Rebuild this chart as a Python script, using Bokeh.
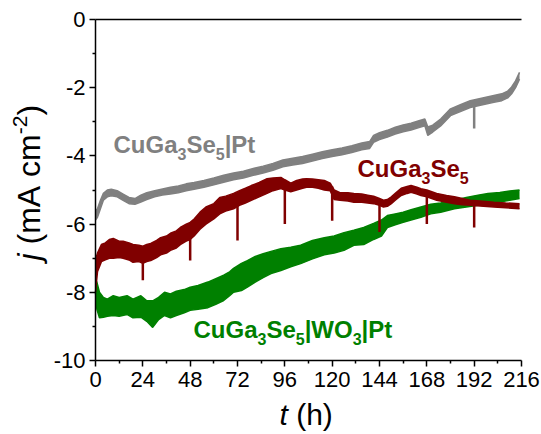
from math import pi

from bokeh.embed import file_html
from bokeh.models import FixedTicker, Label, LinearAxis, Range1d
from bokeh.plotting import figure
from bokeh.resources import INLINE

# ---- axes ---------------------------------------------------------------
x_ticks = [0, 24, 48, 72, 96, 120, 144, 168, 192, 216]
x_minor = [12, 36, 60, 84, 108, 132, 156, 180, 204]
y_ticks = [-10, -8, -6, -4, -2, 0]
y_minor = [-9, -7, -5, -3, -1]
y_tick_labels = ["-10", "-8", "-6", "-4", "-2", "0"]

# ---- CuGa3Se5|Pt : time (h), lower / upper edge of the noisy trace (mA cm-2)
pt_t = [0, 1, 2.5, 4, 6, 8, 11, 14, 17, 20, 23, 26, 30, 34, 38, 42, 46, 50,
        55, 60, 65, 70, 75, 80, 85, 90, 95, 100, 105, 110, 115, 120, 125,
        130, 135, 139, 141, 144, 148, 152, 156, 160, 164, 167, 168.5, 171,
        175, 180, 185, 190, 194, 198, 202, 206, 209, 211, 213, 215]
pt_lo = [-5.88, -5.80, -5.55, -5.30, -5.20, -5.17, -5.20, -5.30, -5.40,
         -5.42, -5.35, -5.28, -5.20, -5.15, -5.12, -5.08, -5.02, -4.98,
         -4.92, -4.85, -4.77, -4.70, -4.65, -4.57, -4.50, -4.42, -4.32,
         -4.27, -4.22, -4.15, -4.08, -4.02, -3.97, -3.90, -3.82, -3.78,
         -3.60, -3.52, -3.45, -3.36, -3.29, -3.24, -3.17, -3.12, -3.40,
         -3.30, -3.12, -2.82, -2.70, -2.58, -2.53, -2.48, -2.43, -2.38,
         -2.30, -2.18, -2.00, -1.75]
pt_hi = [-5.62, -5.55, -5.30, -5.10, -5.00, -4.98, -5.02, -5.12, -5.22,
         -5.25, -5.15, -5.08, -5.02, -4.97, -4.92, -4.88, -4.82, -4.78,
         -4.72, -4.65, -4.57, -4.50, -4.45, -4.37, -4.30, -4.22, -4.12,
         -4.07, -4.02, -3.95, -3.88, -3.82, -3.77, -3.70, -3.62, -3.58,
         -3.40, -3.32, -3.25, -3.16, -3.09, -3.04, -2.97, -2.92, -3.15,
         -3.10, -2.92, -2.62, -2.50, -2.38, -2.33, -2.28, -2.23, -2.18,
         -2.10, -1.98, -1.80, -1.55]
pt_spike_t = [192]
pt_spike_from = [-2.40]
pt_spike_to = [-3.20]

# ---- CuGa3Se5 (bare) ----------------------------------------------------
bare_t = [0, 1, 3, 5, 7, 9, 12, 14, 17, 19, 22, 24, 26, 28, 31, 33, 36, 38,
          41, 43, 46, 48, 50, 53, 56, 60, 63, 66, 70, 73, 76, 79, 83, 87,
          90, 94, 96, 99, 102, 105, 107, 110, 113, 116, 119, 121, 124, 128,
          131, 135, 138, 141, 144, 146, 148, 150, 152, 155, 158, 160, 163,
          165, 168, 173, 178, 182, 186, 190, 195, 202, 208, 215]
bare_lo = [-8.00, -7.40, -7.10, -7.05, -7.00, -7.00, -6.98, -7.00, -7.05,
           -7.12, -7.10, -7.15, -7.10, -7.07, -6.98, -6.90, -6.85, -6.77,
           -6.70, -6.60, -6.50, -6.45, -6.35, -6.15, -6.00, -5.85, -5.70,
           -5.62, -5.55, -5.45, -5.38, -5.30, -5.20, -5.10, -5.02, -4.96,
           -5.00, -5.05, -5.00, -4.95, -4.92, -4.92, -4.95, -5.00, -5.02,
           -5.28, -5.30, -5.32, -5.36, -5.36, -5.38, -5.40, -5.45, -5.50,
           -5.48, -5.40, -5.30, -5.16, -5.10, -5.07, -5.12, -5.16, -5.20,
           -5.30, -5.36, -5.40, -5.43, -5.45, -5.47, -5.50, -5.52, -5.55]
bare_hi = [-7.05, -6.85, -6.60, -6.55, -6.45, -6.42, -6.50, -6.50, -6.55,
           -6.60, -6.62, -6.65, -6.60, -6.57, -6.48, -6.40, -6.35, -6.27,
           -6.20, -6.10, -6.00, -5.95, -5.85, -5.65, -5.50, -5.40, -5.22,
           -5.18, -5.10, -5.02, -4.95, -4.87, -4.78, -4.67, -4.65, -4.63,
           -4.70, -4.80, -4.72, -4.68, -4.67, -4.68, -4.70, -4.72, -4.80,
           -5.00, -5.08, -5.08, -5.10, -5.12, -5.15, -5.18, -5.25, -5.30,
           -5.28, -5.20, -5.10, -4.95, -4.90, -4.87, -4.92, -4.96, -5.00,
           -5.10, -5.16, -5.20, -5.25, -5.30, -5.32, -5.36, -5.38, -5.40]
bare_spike_t = [24, 48, 72, 96, 120, 144, 168, 192]
bare_spike_from = [-6.90, -6.20, -5.30, -4.80, -4.90, -5.35, -5.10, -5.38]
bare_spike_to = [-7.65, -7.07, -6.48, -6.00, -5.90, -6.23, -6.00, -6.10]

# ---- CuGa3Se5|WO3|Pt ------------------------------------------------------
wo_t = [0, 0.7, 2, 4, 6, 9, 12, 16, 19, 23, 26, 29, 32, 35, 38, 41, 45, 48,
        52, 57, 61, 65, 68, 70, 74, 77, 81, 85, 89, 94, 99, 104, 110, 116,
        121, 126, 131, 136, 141, 145, 148, 152, 156, 160, 165, 170, 175,
        182, 188, 194, 199, 205, 210, 215]
wo_lo = [-8.00, -8.50, -8.75, -8.73, -8.70, -8.68, -8.70, -8.65, -8.75,
         -8.73, -8.85, -9.03, -8.80, -8.68, -8.75, -8.68, -8.60, -8.53,
         -8.50, -8.45, -8.35, -8.24, -8.10, -8.00, -7.95, -7.85, -7.70,
         -7.57, -7.45, -7.36, -7.25, -7.16, -7.02, -6.90, -6.85, -6.77,
         -6.62, -6.60, -6.45, -6.35, -6.10, -6.02, -5.95, -5.88, -5.80,
         -5.70, -5.65, -5.55, -5.50, -5.45, -5.40, -5.35, -5.30, -5.25]
wo_hi = [-7.65, -7.70, -8.00, -8.15, -8.20, -8.10, -8.15, -8.10, -8.20,
         -8.10, -8.25, -8.25, -8.15, -8.00, -8.05, -7.97, -7.92, -7.85,
         -7.80, -7.70, -7.60, -7.50, -7.40, -7.30, -7.15, -7.07, -6.95,
         -6.87, -6.80, -6.72, -6.68, -6.62, -6.48, -6.40, -6.35, -6.25,
         -6.18, -6.10, -5.98, -5.88, -5.75, -5.70, -5.65, -5.58, -5.50,
         -5.42, -5.38, -5.30, -5.22, -5.15, -5.10, -5.07, -5.03, -5.00]

GRAY, RED, GREEN = "#808080", "#800000", "#008000"
FONT = "Liberation Sans"
NBSP = "\u00a0"

W, H = 541, 434
FL, FR, FT, FB = 95, 521, 19, 360        # data box edges in pixels
T_MAX, J_MIN = 216, -10


def t_at(px):
    return (px - FL) / (FR - FL) * T_MAX


def j_at(py):
    return (py - FT) / (FB - FT) * J_MIN


# The frame fills the whole canvas; the axes sit at fixed data positions so
# that the titles drawn as labels outside the data box stay visible.
p = figure(width=W, height=H, output_backend="svg", toolbar_location=None,
           x_range=Range1d(t_at(0), t_at(W)), y_range=Range1d(j_at(H), j_at(0)),
           x_axis_type=None, y_axis_type=None,
           min_border=0, min_border_left=0, min_border_right=0,
           min_border_top=0, min_border_bottom=0)
p.title.visible = False
p.outline_line_color = None
p.background_fill_color = "white"
p.border_fill_color = "white"


def style_axis(ax):
    ax.axis_line_width = 1.5
    ax.axis_line_color = "black"
    ax.major_tick_line_width = 1.5
    ax.minor_tick_line_width = 1.5
    ax.major_tick_line_color = "black"
    ax.minor_tick_line_color = "black"
    ax.major_tick_in = 0
    ax.major_tick_out = 6
    ax.minor_tick_in = 0
    ax.minor_tick_out = 3
    ax.major_label_text_font = FONT
    ax.major_label_text_font_size = "22px"
    ax.major_label_text_color = "black"
    ax.major_label_standoff = 4


xaxis = LinearAxis(fixed_location=J_MIN, bounds=(0, T_MAX),
                   ticker=FixedTicker(ticks=x_ticks, minor_ticks=x_minor))
yaxis = LinearAxis(fixed_location=0, bounds=(J_MIN, 0),
                   ticker=FixedTicker(ticks=y_ticks, minor_ticks=y_minor),
                   major_label_overrides=dict(zip(y_ticks, y_tick_labels)))
top = LinearAxis(fixed_location=0, bounds=(0, T_MAX),
                 ticker=FixedTicker(ticks=[], minor_ticks=[]))
for ax in (xaxis, yaxis, top):
    style_axis(ax)
xaxis.major_label_standoff = 5
p.add_layout(xaxis, "below")
p.add_layout(yaxis, "left")
p.add_layout(top, "above")


def trace(t, lo, hi, color):
    p.varea(x=t, y1=lo, y2=hi, fill_color=color)
    p.line(t, lo, line_color=color, line_width=1.5)
    p.line(t, hi, line_color=color, line_width=1.5)


trace(pt_t, pt_lo, pt_hi, GRAY)
p.segment(x0=pt_spike_t, y0=pt_spike_from, x1=pt_spike_t, y1=pt_spike_to,
          line_color=GRAY, line_width=2.5)
trace(wo_t, wo_lo, wo_hi, GREEN)
trace(bare_t, bare_lo, bare_hi, RED)
p.segment(x0=bare_spike_t, y0=bare_spike_from, x1=bare_spike_t,
          y1=bare_spike_to, line_color=RED, line_width=2.5)

# ---- rich text (sub/superscripts) built from pieces --------------------
ADV = {  # advance widths per 1000 em (Arial metrics)
    "bold": {"C": 722, "u": 611, "G": 778, "a": 556, "S": 667, "e": 556,
             "|": 280, "P": 667, "t": 333, "W": 944, "O": 778, "3": 556,
             "5": 556},
    "normal": {"j": 222, NBSP: 278, "(": 333, "m": 833, "A": 667, "c": 500,
               ")": 333, "-": 333, "2": 556, "h": 556, "t": 278},
}
ADV["italic"] = ADV["normal"]
BASELINE_FIX = 0.37   # the label box sits this many em below the baseline


def text_width(s, size, style):
    return sum(ADV[style][c] for c in s) * size / 1000


def rich_text(pieces, x0, y0, size, color, vertical=False):
    """pieces: (text, 'n'|'sub'|'sup', style); x0/y0: start of baseline (px)."""
    pos = x0 if not vertical else y0
    for txt, kind, style in pieces:
        fs = size if kind == "n" else round(size * 0.66)
        shift = {"n": 0, "sub": 0.27 * size, "sup": -0.40 * size}[kind]
        shift -= BASELINE_FIX * fs
        if vertical:
            x, y = x0 + shift, pos
        else:
            x, y = pos, y0 + shift
        p.add_layout(Label(x=t_at(x), y=j_at(y), text=txt,
                           text_font=FONT, text_font_size=f"{fs}px",
                           text_font_style=style, text_color=color,
                           text_align="left", text_baseline="alphabetic",
                           angle=pi / 2 if vertical else 0))
        step = text_width(txt, fs, style)
        pos = pos - step if vertical else pos + step


def formula(tail):
    b = "bold"
    return [("CuGa", "n", b), ("3", "sub", b), ("Se", "n", b),
            ("5", "sub", b)] + tail


rich_text(formula([("|Pt", "n", "bold")]), 113, 153, 24, GRAY)
rich_text(formula([]), 357, 177, 24, RED)
rich_text(formula([("|WO", "n", "bold"), ("3", "sub", "bold"),
                   ("|Pt", "n", "bold")]), 193, 338, 24, GREEN)

# axis titles
rich_text([("t", "n", "italic"), (NBSP + "(h)", "n", "normal")], 279, 425,
          30, "black")
rich_text([("j", "n", "italic"), (NBSP + "(mA" + NBSP + "cm", "n", "normal"),
           ("-2", "sup", "normal"), (")", "n", "normal")], 40, 260, 32,
          "black", vertical=True)

open("out.html", "w").write(file_html(p, INLINE))
